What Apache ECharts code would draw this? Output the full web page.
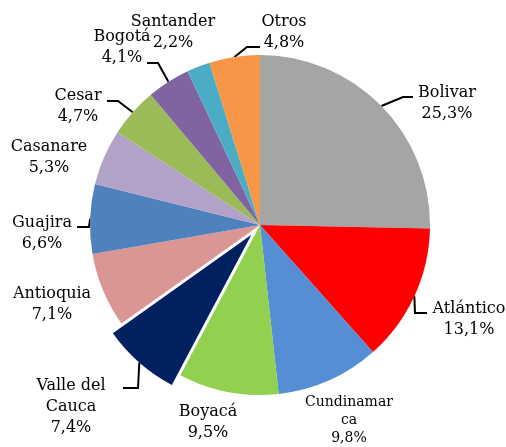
<!DOCTYPE html>
<html>
<head>
<meta charset="utf-8">
<script src="https://cdn.jsdelivr.net/npm/echarts@6/dist/echarts.min.js"></script>
<style>
  html, body { margin: 0; padding: 0; background: #fff; }
  #main { width: 506px; height: 447px; }
</style>
</head>
<body>
<div id="main"></div>
<script>
const categories = ['Bolivar', 'Atlántico', 'Cundinamarca', 'Boyacá', 'Valle del Cauca', 'Antioquia',
  'Guajira', 'Casanare', 'Cesar', 'Bogotá', 'Santander', 'Otros']
const shares = [25.3, 13.1, 9.8, 9.5, 7.4, 7.1, 6.6, 5.3, 4.7, 4.1, 2.2, 4.8]
const labelNames = ['Bolivar', 'Atlántico', 'Cundinamar\nca', 'Boyacá', 'Valle del\nCauca', 'Antioquia',
  'Guajira', 'Casanare', 'Cesar', 'Bogotá', 'Santander', 'Otros']
const colors = ['#A5A5A5', '#FF0000', '#558ED5', '#92D050', '#002060', '#D99694',
  '#4F81BD', '#B3A2C7', '#9BBB59', '#8064A2', '#4BACC6', '#F79646']
// label block centres
const labelPos = [[447, 103], [469, 319], [349, 420], [208, 422], [71, 407], [52, 304],
  [42, 233], [49, 157], [78, 106], [122, 47], [173, 32], [284, 32]]
// leader lines: [elbowX, elbowY, endX, endY], null = no line
const leaders = [[403, 97, 413, 97], [415, 313, 427, 313], null, null, [138, 388, 123, 388], null,
  [89, 227, 77, 227], null, [118, 101, 107, 101], [158, 63, 147, 63], null, [247, 47, 260, 47]]

const exploded = 4
const cx = 260, cy = 225, R = 170, explodeBy = 13

// mid angle of every slice, clockwise from 12 o'clock
const total = shares.reduce((a, b) => a + b, 0)
let acc = 0
const midAngle = shares.map(v => {
  const m = (acc + v / 2) / total * Math.PI * 2
  acc += v
  return m
})
const ex = explodeBy * Math.sin(midAngle[exploded])
const ey = -explodeBy * Math.cos(midAngle[exploded])

const chart = echarts.init(document.getElementById('main'))

function makeData(onlyExploded) {
  return categories.map((name, i) => {
    const visible = onlyExploded ? i === exploded : i !== exploded
    return {
      name: name,
      value: shares[i],
      itemStyle: { color: visible ? colors[i] : 'rgba(0,0,0,0)' },
      label: Object.assign({ show: visible }, i === 2 ? { fontSize: 14, lineHeight: 18 } : {}),
      labelLine: { show: visible && !!leaders[i] }
    }
  })
}

function layout(p) {
  const i = p.dataIndex
  const out = {
    x: labelPos[i][0],
    y: labelPos[i][1],
    align: 'center',
    verticalAlign: 'middle'
  }
  const L = leaders[i]
  if (L) {
    const ox = i === exploded ? ex : 0
    const oy = i === exploded ? ey : 0
    out.labelLinePoints = [
      [cx + ox + R * Math.sin(midAngle[i]), cy + oy - R * Math.cos(midAngle[i])],
      [L[0], L[1]],
      [L[2], L[3]]
    ]
  }
  return out
}

const common = {
  type: 'pie',
  radius: R,
  startAngle: 90,
  clockwise: true,
  silent: true,
  avoidLabelOverlap: false,
  emphasis: { disabled: true },
  label: {
    position: 'outside',
    fontFamily: 'DejaVu Serif',
    fontSize: 16,
    lineHeight: 21,
    color: '#000',
    align: 'center',
    overflow: 'none',
    bleedMargin: -300,
    formatter: p => labelNames[p.dataIndex] + '\n' + p.value.toFixed(1).replace('.', ',') + '%'
  },
  labelLine: {
    length: 10,
    length2: 10,
    lineStyle: { color: '#000', width: 2 }
  },
  labelLayout: layout
}

chart.setOption({
  animation: false,
  series: [
    Object.assign({}, common, { center: [cx, cy], data: makeData(false) }),
    Object.assign({}, common, { center: [cx + ex, cy + ey], data: makeData(true) })
  ]
})
</script>
</body>
</html>
